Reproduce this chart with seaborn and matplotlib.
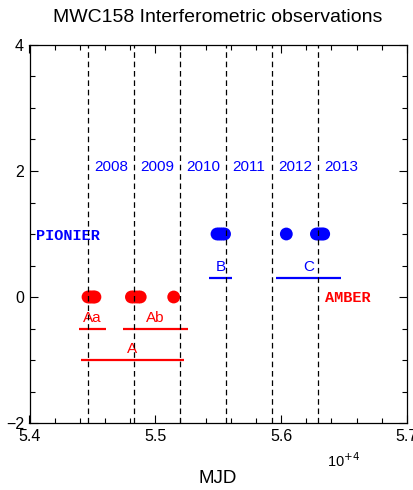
import matplotlib
matplotlib.use("Agg")
import matplotlib.pyplot as plt
import seaborn as sns
import pandas as pd
from matplotlib.ticker import MultipleLocator, FixedLocator, FixedFormatter

# ---- data ----
amber_mjd = [54465, 54480, 54495, 54510, 54520, 54810, 54825, 54845, 54865, 54880, 55146]
amber_y = [0, 0, 0, 0, 0, 0, 0, 0, 0, 0, 0]
pionier_mjd = [55490, 55505, 55520, 55535, 55550, 56041, 56280, 56295, 56310, 56325, 56338]
pionier_y = [1, 1, 1, 1, 1, 1, 1, 1, 1, 1, 1]

year_starts = [54466, 54832, 55197, 55562, 55927, 56293, 56658]
year_labels = ["2008", "2009", "2010", "2011", "2012", "2013"]

group_names = ["Aa", "Ab", "A", "B", "C"]
group_start = [54393, 54745, 54409, 55429, 55959]
group_end = [54608, 55257, 55228, 55607, 56473]
group_y = [-0.5, -0.5, -1.0, 0.3, 0.3]
group_color = ["red", "red", "red", "blue", "blue"]

xticks = [54000, 55000, 56000, 57000]
xtick_labels = ["5.4", "5.5", "5.6", "5.7"]
yticks = [-2, 0, 2, 4]
ytick_labels = ["\u22122", "0", "2", "4"]

title = "MWC158 Interferometric observations"
xlabel = "MJD"

# ---- style ----
sns.set_style("ticks")
plt.rcParams["font.family"] = ["Liberation Sans", "DejaVu Sans"]
plt.rcParams["text.color"] = "black"
plt.rcParams["xtick.color"] = "black"
plt.rcParams["ytick.color"] = "black"
plt.rcParams["axes.edgecolor"] = "black"

fig = plt.figure(figsize=(4.13, 4.90), dpi=100)
ax = fig.add_axes([29.5 / 413, 67 / 490, (407 - 29.5) / 413, (423 - 45) / 490])

df = pd.DataFrame({
    "mjd": amber_mjd + pionier_mjd,
    "y": amber_y + pionier_y,
    "inst": ["AMBER"] * len(amber_mjd) + ["PIONIER"] * len(pionier_mjd),
})
sns.scatterplot(data=df, x="mjd", y="y", hue="inst",
                palette={"AMBER": "red", "PIONIER": "blue"},
                s=85, linewidth=0, legend=False, ax=ax, zorder=2)

ax.set_xlim(54000, 57000)
ax.set_ylim(-2, 4)

# year separators
for xs in year_starts[:-1]:
    ax.axvline(xs, color="black", lw=0.9, dashes=(4.5, 3), zorder=4)
for i, lab in enumerate(year_labels):
    xm = (year_starts[i] + year_starts[i + 1]) / 2
    ax.text(xm, 2.07, lab, color="blue", fontsize=11, ha="center", va="center")

# groups
for name, x0, x1, yy, c in zip(group_names, group_start, group_end, group_y, group_color):
    ax.hlines(yy, x0, x1, color=c, lw=1.6, zorder=3)
    ax.text((x0 + x1) / 2, yy + 0.17, name, color=c, fontsize=11,
            ha="center", va="center")

ax.text(54050, 0.97, "PIONIER", color="blue", fontsize=11, fontweight="bold",
        family=["Liberation Mono"], ha="left", va="center")
ax.text(56350, -0.02, "AMBER", color="red", fontsize=11, fontweight="bold",
        family=["Liberation Mono"], ha="left", va="center")

# ticks
ax.xaxis.set_major_locator(FixedLocator(xticks))
ax.xaxis.set_major_formatter(FixedFormatter(xtick_labels))
ax.xaxis.set_minor_locator(MultipleLocator(200))
ax.yaxis.set_major_locator(FixedLocator(yticks))
ax.yaxis.set_major_formatter(FixedFormatter(ytick_labels))
ax.yaxis.set_minor_locator(MultipleLocator(0.5))
ax.tick_params(which="both", direction="in", top=True, right=True,
               labelsize=11.5, color="black", labelcolor="black", width=0.8, pad=4)
ax.tick_params(which="major", length=6)
ax.tick_params(which="minor", length=3.5)
for sp in ax.spines.values():
    sp.set_visible(True)
    sp.set_linewidth(0.9)
    sp.set_color("black")
ax.set_xlabel("")
ax.set_ylabel("")

fig.text(343 / 413, 1 - 461 / 490, "10$^{+4}$", fontsize=10.5, ha="center", va="center")
fig.text(218 / 413, 1 - 478 / 490, xlabel, fontsize=13.5, ha="center", va="center")
fig.text(218 / 413, 1 - 17 / 490, title, fontsize=14, ha="center", va="center")

fig.savefig("out.png", dpi=100)
